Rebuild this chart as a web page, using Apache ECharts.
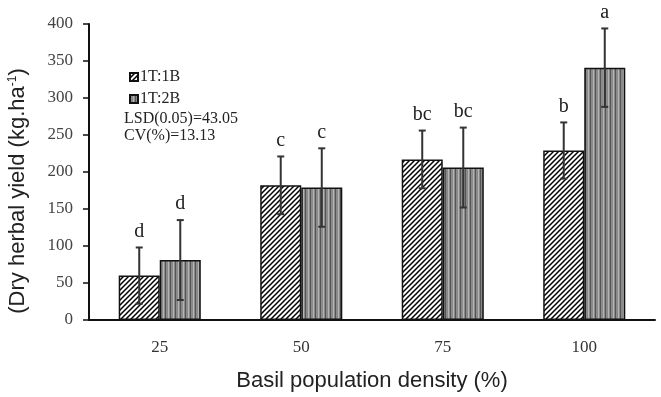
<!DOCTYPE html>
<html>
<head>
<meta charset="utf-8">
<script src="https://cdn.jsdelivr.net/npm/echarts@6/dist/echarts.min.js"></script>
<style>
  html, body { margin: 0; padding: 0; background: #fff; }
  #chart { width: 661px; height: 397px; }
</style>
</head>
<body>
<div id="chart"></div>
<script>
const categories = ['25', '50', '75', '100'];
const seriesNames = ['1T:1B', '1T:2B'];
const yield1B = [60, 182, 217, 229];
const err1B = [38, 39, 39, 38];
const letters1B = ['d', 'c', 'bc', 'b'];
const yield2B = [81, 179, 206, 341];
const err2B = [54, 53, 54, 53];
const letters2B = ['d', 'c', 'bc', 'a'];
const yTicks = { min: 0, max: 400, interval: 50 };

const SERIF = '"Liberation Serif", "Times New Roman", serif';
const SANS = '"Liberation Sans", Arial, sans-serif';

// hatch pattern for 1T:1B
function makeHatch() {
  const c = document.createElement('canvas');
  c.width = 5; c.height = 5;
  const ctx = c.getContext('2d');
  ctx.fillStyle = '#fff';
  ctx.fillRect(0, 0, 5, 5);
  ctx.strokeStyle = '#000';
  ctx.lineWidth = 1.5;
  ctx.beginPath();
  ctx.moveTo(-1, 6); ctx.lineTo(6, -1);
  ctx.moveTo(-4, 4); ctx.lineTo(4, -4);
  ctx.moveTo(1, 9); ctx.lineTo(9, 1);
  ctx.stroke();
  return c;
}

// vertical stripes for 1T:2B
function makeStripes() {
  const c = document.createElement('canvas');
  c.width = 5; c.height = 4;
  const ctx = c.getContext('2d');
  ctx.fillStyle = '#8a8a8a';
  ctx.fillRect(0, 0, 5, 4);
  ctx.fillStyle = '#555';
  ctx.fillRect(0, 0, 1, 4);
  ctx.fillStyle = '#b5b5b5';
  ctx.fillRect(3, 0, 1, 4);
  return c;
}

const hatch = { image: makeHatch(), repeat: 'repeat' };
const stripes = { image: makeStripes(), repeat: 'repeat' };

const errData = [];
categories.forEach((c, i) => {
  errData.push([i, yield1B[i], err1B[i], letters1B[i], 0]);
  errData.push([i, yield2B[i], err2B[i], letters2B[i], 1]);
});

const chart = echarts.init(document.getElementById('chart'));

chart.setOption({
  animation: false,
  grid: { left: 89, right: 6, top: 24, bottom: 77, containLabel: false },
  legend: {
    data: seriesNames,
    orient: 'vertical',
    left: 124,
    top: 64,
    itemWidth: 8,
    itemHeight: 8,
    itemGap: 6,
    icon: 'rect',
    textStyle: { fontFamily: SERIF, fontSize: 16, color: '#222', padding: [0, 0, 0, -3] },
  },
  graphic: [
    {
      type: 'text',
      left: 124,
      top: 110,
      style: {
        text: 'LSD(0.05)=43.05\nCV(%)=13.13',
        font: '16px ' + SERIF,
        lineHeight: 17,
        fill: '#222',
      },
    },
    {
      type: 'text',
      x: 18,
      y: 191,
      rotation: Math.PI / 2,
      style: {
        text: '{n|(Dry herbal yield (kg.ha}{s|-1}{n|)}',
        align: 'center',
        verticalAlign: 'middle',
        rich: {
          n: { fontFamily: SANS, fontSize: 22, fill: '#222' },
          s: { fontFamily: SANS, fontSize: 12, fill: '#222', padding: [0, 0, 10, 0] },
        },
      },
    },
  ],
  xAxis: {
    type: 'category',
    data: categories,
    name: 'Basil population density (%)',
    nameLocation: 'middle',
    nameGap: 50,
    nameTextStyle: { fontFamily: SANS, fontSize: 22, color: '#222' },
    axisLine: { lineStyle: { color: '#111', width: 2 } },
    axisTick: { show: false },
    axisLabel: { fontFamily: SERIF, fontSize: 17, color: '#333', margin: 19 },
  },
  yAxis: {
    type: 'value',
    min: yTicks.min,
    max: yTicks.max,
    interval: yTicks.interval,
    axisLine: { show: true, lineStyle: { color: '#111', width: 2 } },
    axisTick: { show: true, length: 6, lineStyle: { color: '#111', width: 1.5 } },
    splitLine: { show: false },
    axisLabel: { fontFamily: SERIF, fontSize: 17, color: '#444', margin: 16 },
  },
  series: [
    {
      name: seriesNames[0],
      type: 'bar',
      data: yield1B,
      barGap: '0%',
      barCategoryGap: '42%',
      itemStyle: { color: hatch, borderColor: '#111', borderWidth: 1.5 },
    },
    {
      name: seriesNames[1],
      type: 'bar',
      data: yield2B,
      itemStyle: { color: stripes, borderColor: '#111', borderWidth: 1.5 },
    },
    {
      type: 'custom',
      name: 'err',
      data: errData,
      z: 10,
      renderItem: function (params, api) {
        const cat = api.value(0);
        const mean = api.value(1);
        const err = api.value(2);
        const idx = api.value(4);
        const band = api.size([1, 0])[0];
        const barW = band * 0.58 / 2;
        const off = (idx === 0 ? -0.5 : 0.5) * barW;
        const top = api.coord([cat, mean + err]);
        const bot = api.coord([cat, mean - err]);
        const x = top[0] + off;
        const cap = 3.5;
        const st = { stroke: '#333', lineWidth: 2 };
        return {
          type: 'group',
          children: [
            { type: 'line', shape: { x1: x, y1: top[1], x2: x, y2: bot[1] }, style: st },
            { type: 'line', shape: { x1: x - cap, y1: top[1], x2: x + cap, y2: top[1] }, style: st },
            { type: 'line', shape: { x1: x - cap, y1: bot[1], x2: x + cap, y2: bot[1] }, style: st },
            {
              type: 'text',
              x: x,
              y: top[1] - 6,
              style: {
                text: errData[params.dataIndex][3],
                font: '20px ' + SERIF,
                fill: '#222',
                align: 'center',
                verticalAlign: 'bottom',
              },
            },
          ],
        };
      },
    },
  ],
});
</script>
</body>
</html>
